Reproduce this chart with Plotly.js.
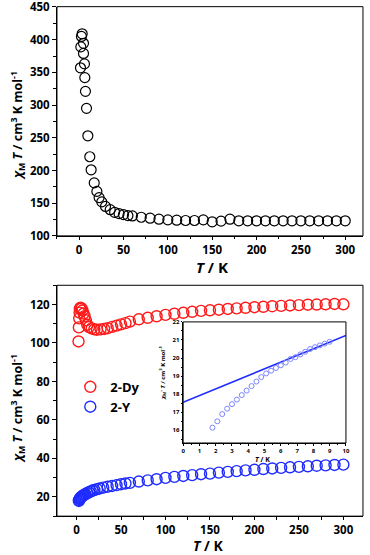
<!DOCTYPE html>
<html>
<head>
<meta charset="utf-8">
<script src="https://cdn.plot.ly/plotly-3.0.1.min.js"></script>
<style>
  body { margin: 0; background: #fff; }
  #chart { width: 370px; height: 555px; }
</style>
</head>
<body>
<div id="chart"></div>
<script>
// top panel: one sample, chiMT vs T
const topT = [1.5, 1.9, 2.6, 3.4, 4.9, 4.9, 6.0, 6.4, 7.1, 8.3, 9.8, 12, 13.5, 17, 20, 22.5, 25.5, 29.7, 35, 40, 45, 50, 55, 60,
  70, 80, 90, 100, 110, 120, 130, 140, 150, 160, 170, 180, 190, 200, 210, 220, 230, 240, 250, 260, 270, 280, 290, 300];
const topChi = [357, 389, 405, 409, 394.5, 379, 363, 342, 321, 295, 253, 221, 201, 181, 168, 158.5, 152, 145, 140, 136, 134, 132.5, 131, 130.5,
  128.5, 127, 125.5, 124.5, 124, 123.5, 123.5, 124.5, 121.5, 122.5, 125.5, 123, 123, 123, 123, 123, 123, 123, 123, 123, 123, 123, 123, 123];

// bottom panel: 2-Dy
const dyT = [2.2, 2.6, 3.0, 3.4, 3.7, 4.5, 5.6, 6.7, 7.9, 9, 10.5, 12, 14, 17, 20, 23, 27, 31, 35, 40, 45, 50, 55, 60,
  70, 80, 90, 100, 110, 120, 130, 140, 150, 160, 170, 180, 190, 200, 210, 220, 230, 240, 250, 260, 270, 280, 290, 300];
const dyChi = [100.8, 108.1, 112.8, 115.8, 117.7, 118.4, 118, 116.9, 115.3, 113.9, 111.8, 109.5, 108.3, 107.6, 107.1, 106.9, 107.1, 107.3, 107.7, 108.4, 109, 109.7, 110.3, 111.1,
  112.3, 113.1, 113.9, 114.6, 115.2, 115.7, 116.2, 116.7, 117.0, 117.3, 117.7, 118, 118.3, 118.6, 118.8, 119.1, 119.3, 119.5, 119.7, 119.9, 120.0, 120.1, 120.3, 120.1];

// bottom panel: 2-Y
const yT = [2.6, 3.0, 3.5, 4.0, 4.5, 5, 6, 7, 8, 9, 10, 12, 14, 16, 18, 20, 23, 26, 30, 35, 40, 45, 50, 55, 60,
  70, 80, 90, 100, 110, 120, 130, 140, 150, 160, 170, 180, 190, 200, 210, 220, 230, 240, 250, 260, 270, 280, 290, 300];
const yChi = [17.9, 18.4, 18.9, 19.3, 19.6, 19.9, 20.3, 20.6, 20.9, 21.2, 21.5, 22.0, 22.4, 22.9, 23.3, 23.6, 24.0, 24.4, 24.8, 25.3, 25.7, 26.1, 26.6, 27.0, 27.3,
  28.0, 28.6, 29.2, 29.9, 30.4, 30.9, 31.3, 31.8, 32.1, 32.6, 33.0, 33.4, 33.8, 34.1, 34.5, 34.8, 35.1, 35.4, 35.6, 35.9, 36.2, 36.4, 36.6, 36.8];

// inset: 2-Y at low T and its linear fit
const insT = [1.8, 2.1, 2.4, 2.7, 3.0, 3.3, 3.6, 3.9, 4.2, 4.5, 4.8, 5.1, 5.4, 5.7, 6.0, 6.3, 6.6, 6.9, 7.2, 7.5, 7.8, 8.1, 8.4, 8.7, 9.0];
const insChi = [16.15, 16.5, 16.9, 17.2, 17.45, 17.7, 17.95, 18.2, 18.45, 18.7, 18.95, 19.15, 19.3, 19.45, 19.6, 19.75, 19.95, 20.05, 20.2, 20.35, 20.5, 20.6, 20.7, 20.8, 20.9];
const fitT = [0, 10];
const fitChi = [17.55, 21.25];

const red = "#ff1a1a";
const blue = "#1f2bff";
const fnt = "Open Sans, Liberation Sans, Arial, sans-serif";
const yTitle = "<i>χ</i><sub>M</sub> <i>T</i> / cm<sup>3</sup> K mol<sup>-1</sup>";
const xTitle = "<i>T</i> / K";

const data = [
  {x: topT, y: topChi, xaxis: "x", yaxis: "y", mode: "markers", showlegend: false,
   marker: {symbol: "circle-open", size: 10, color: "#000", line: {width: 1.2}}},
  {x: dyT, y: dyChi, xaxis: "x2", yaxis: "y2", mode: "markers", name: "2-Dy",
   marker: {symbol: "circle-open", size: 11, color: red, line: {width: 1.4}}},
  {x: yT, y: yChi, xaxis: "x2", yaxis: "y2", mode: "markers", name: "2-Y",
   marker: {symbol: "circle-open", size: 11, color: blue, line: {width: 1.4}}},
  {x: fitT, y: fitChi, xaxis: "x3", yaxis: "y3", mode: "lines", showlegend: false,
   line: {color: blue, width: 1.6}},
  {x: insT, y: insChi, xaxis: "x3", yaxis: "y3", mode: "markers", showlegend: false,
   marker: {symbol: "circle-open", size: 5, color: "#7d86ff", line: {width: 1}}}
];

function ax(extra) {
  return Object.assign({
    showgrid: false, zeroline: false, showline: true, linecolor: "#000", linewidth: 1,
    ticks: "outside", ticklen: 4, tickwidth: 1, tickcolor: "#000", ticklabeloverflow: "allow",
    tickfont: {family: fnt, size: 11.5, weight: "bold", color: "#000"}
  }, extra);
}

const boxLine = {color: "#000", width: 1};
const minorBig = (d) => ({ticks: "outside", ticklen: 2.5, dtick: d, tickcolor: "#000"});
const minorSmall = {ticks: "outside", ticklen: 1.2, dtick: 0.5, tickcolor: "#000"};
const smallFont = {family: fnt, size: 6, weight: "bold", color: "#000"};

// axis titles placed by hand, centred on the given pixel
function note(text, px, py, size, angle) {
  return {text: text, xref: "paper", yref: "paper", x: px / 370, y: 1 - py / 555,
    xanchor: "center", yanchor: "middle", borderpad: 0,
    textangle: angle || 0, showarrow: false, font: {family: fnt, size: size, weight: "bold", color: "#000"}};
}

const layout = {
  width: 370, height: 555,
  margin: {l: 0, r: 0, t: 0, b: 0},
  paper_bgcolor: "#fff", plot_bgcolor: "#fff",
  font: {family: fnt, color: "#000"},
  xaxis: ax({domain: [0.154, 0.981], anchor: "y", range: [-25, 320], dtick: 50, ticklen: 3, minor: minorBig(25)}),
  yaxis: ax({domain: [0.575, 0.988], anchor: "x", range: [100, 450.5], dtick: 50, minor: minorBig(25)}),
  xaxis2: ax({domain: [0.154, 0.981], anchor: "y2", range: [-22, 322], dtick: 50, ticklen: 3, minor: minorBig(25)}),
  yaxis2: ax({domain: [0.07, 0.486], anchor: "x2", range: [10, 130], dtick: 20, minor: minorBig(10)}),
  xaxis3: ax({domain: [0.495, 0.935], anchor: "y3", range: [0, 10], dtick: 1, ticklen: 1.5, minor: minorSmall,
    tickfont: smallFont}),
  yaxis3: ax({domain: [0.2018, 0.42], anchor: "x3", range: [15.3, 22], dtick: 1, ticklen: 1.5, minor: minorSmall,
    tickfont: smallFont}),
  shapes: [
    {type: "rect", xref: "x domain", yref: "y domain", x0: 0, x1: 1, y0: 0, y1: 1, line: boxLine},
    {type: "rect", xref: "x2 domain", yref: "y2 domain", x0: 0, x1: 1, y0: 0, y1: 1, line: boxLine},
    {type: "rect", xref: "x3 domain", yref: "y3 domain", x0: 0, x1: 1, y0: 0, y1: 1, line: boxLine}
  ],
  annotations: [
    note(xTitle, 212, 267, 15),
    note(yTitle, 18, 126, 12.5, -90),
    note(xTitle, 208, 545, 14),
    note(yTitle, 18, 409, 12.5, -90),
    note(xTitle, 262, 459, 7),
    note("<i>χ</i><sub>M</sub>' <i>T</i> / cm<sup>3</sup> K mol<sup>-1</sup>", 162, 373, 6, -90)
  ],
  legend: {x: 0.19, y: 0.33, xanchor: "left", yanchor: "top", bgcolor: "rgba(0,0,0,0)",
    font: {family: fnt, size: 13, weight: "bold", color: "#000"}, itemwidth: 30, tracegroupgap: 0}
};

Plotly.newPlot("chart", data, layout, {displayModeBar: false, staticPlot: true});
</script>
</body>
</html>
